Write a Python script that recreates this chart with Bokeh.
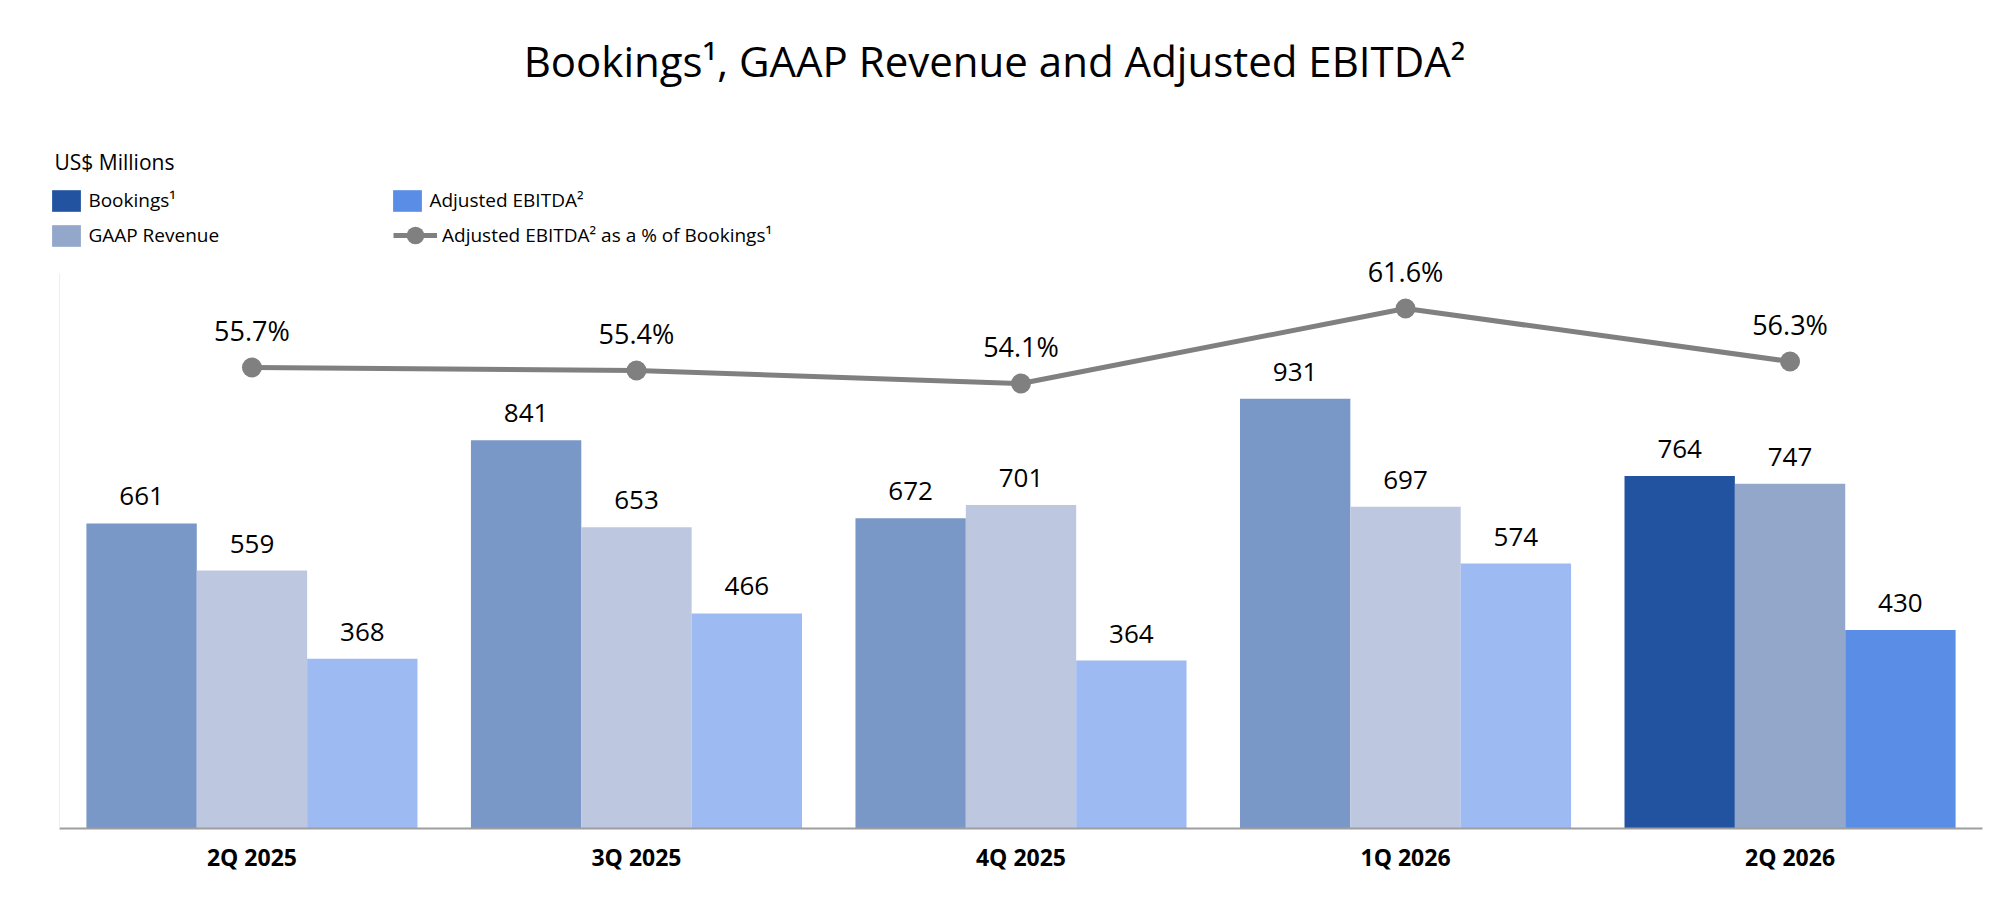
from bokeh.plotting import figure
from bokeh.models import (ColumnDataSource, FactorRange, Range1d, Legend,
                          LegendItem, Label, FixedTicker)
from bokeh.transform import dodge
from bokeh.core.properties import value
from bokeh.embed import file_html
from bokeh.resources import INLINE

# ---- data -------------------------------------------------------------
quarters = ["2Q 2025", "3Q 2025", "4Q 2025", "1Q 2026", "2Q 2026"]
bookings = [661, 841, 672, 931, 764]
gaap_revenue = [559, 653, 701, 697, 747]
adj_ebitda = [368, 466, 364, 574, 430]
ebitda_pct = [55.7, 55.4, 54.1, 61.6, 56.3]

bookings_colors = ["#7A98C7", "#7A98C7", "#7A98C7", "#7A98C7", "#2253A0"]
revenue_colors = ["#BDC8E0", "#BDC8E0", "#BDC8E0", "#BDC8E0", "#92A7C9"]
ebitda_colors = ["#9DBAF2", "#9DBAF2", "#9DBAF2", "#9DBAF2", "#5A8DE6"]

title_text = "Bookings\u00b9, GAAP Revenue and Adjusted EBITDA\u00b2"
unit_text = "US$ Millions"
legend_labels = ["Bookings\u00b9", "GAAP Revenue", "Adjusted EBITDA\u00b2",
                 "Adjusted EBITDA\u00b2 as a % of Bookings\u00b9"]

FONT = "Open Sans"
LINE_GRAY = "#808080"

src = ColumnDataSource(dict(
    q=quarters,
    bookings=bookings, gaap=gaap_revenue, ebitda=adj_ebitda, pct=ebitda_pct,
    bc=bookings_colors, rc=revenue_colors, ec=ebitda_colors,
    bl=[str(v) for v in bookings],
    rl=[str(v) for v in gaap_revenue],
    el=[str(v) for v in adj_ebitda],
    pl=["%.1f%%" % v for v in ebitda_pct],
))

W, H = 2004, 900
PAD = 0.0395  # absolute padding (categories) at each end
p = figure(x_range=FactorRange(*quarters, range_padding=PAD,
                               range_padding_units="absolute",
                               factor_padding=0),
           y_range=Range1d(0, 1794.1),
           width=W, height=H, output_backend="svg", toolbar_location=None,
           min_border_left=44, min_border_right=7, min_border_top=0,
           min_border_bottom=72, background_fill_color="white",
           border_fill_color="white")
p.extra_y_ranges = {"pct": Range1d(9.6, 92.4)}
p.outline_line_color = None
p.xgrid.visible = False
p.ygrid.visible = False

BW = 0.287
series = [("bookings", "bc", "bl", -BW), ("gaap", "rc", "rl", 0.0),
          ("ebitda", "ec", "el", BW)]
bar_r = []
for top, col, lab, off in series:
    r = p.vbar(x=dodge("q", off, range=p.x_range), top=top, width=BW,
               source=src, fill_color=col, line_color=None)
    bar_r.append(r)
    p.text(x=dodge("q", off, range=p.x_range), y=top, text=lab, source=src,
           text_align="center", text_baseline="alphabetic", y_offset=-27,
           text_font=value(FONT), text_font_size="26px", text_color="black")

lr = p.line(x="q", y="pct", y_range_name="pct", source=src,
            line_color=LINE_GRAY, line_width=5)
sr = p.scatter(x="q", y="pct", y_range_name="pct", source=src, size=20,
               fill_color=LINE_GRAY, line_color=None)
p.text(x="q", y="pct", text="pl", y_range_name="pct", source=src,
       text_align="center", text_baseline="alphabetic", y_offset=-37,
       text_font=value(FONT), text_font_size="27px", text_color="black")

# ---- axes -------------------------------------------------------------
xa = p.xaxis[0]
xa.bounds = (0, 5)
xa.axis_line_color = "#9E9E9E"
xa.axis_line_width = 2
xa.major_tick_out = 0
xa.major_tick_in = 0
xa.minor_tick_out = 0
xa.major_label_text_font = FONT
xa.major_label_text_font_size = "23px"
xa.major_label_text_font_style = "bold"
xa.major_label_text_color = "black"
xa.major_label_standoff = 12

ya = p.yaxis[0]
ya.ticker = FixedTicker(ticks=[])
ya.fixed_location = 0
ya.bounds = (0, 1203)
ya.axis_line_color = "#EEEEEE"
ya.axis_line_width = 1
ya.major_tick_out = 0
ya.major_tick_in = 0
ya.minor_tick_out = 0
ya.minor_tick_in = 0

# ---- legends ----------------------------------------------------------
def make_legend(items, loc, gw, gh, standoff, spacing):
    lg = Legend(items=items, location=loc, glyph_width=gw, glyph_height=gh,
                label_standoff=standoff, padding=0, margin=0, spacing=spacing,
                border_line_color=None, background_fill_alpha=0,
                label_text_font=FONT, label_text_font_size="19px",
                label_text_color="black")
    p.add_layout(lg, "center")

make_legend([LegendItem(label=legend_labels[0], renderers=[bar_r[0]], index=4),
             LegendItem(label=legend_labels[1], renderers=[bar_r[1]], index=4)],
            (4.4, 579.25), 36, 27, 4, 8)
make_legend([LegendItem(label=legend_labels[2], renderers=[bar_r[2]], index=4)],
            (345.4, 614.25), 36, 27, 4, 8)
make_legend([LegendItem(label=legend_labels[3], renderers=[lr, sr])],
            (349, 567), 44, 52, 5, 0)

# ---- titles -----------------------------------------------------------
p.add_layout(Label(x=950, y=768, x_units="screen", y_units="screen",
                   text=title_text, text_align="center",
                   text_baseline="alphabetic", text_font=FONT,
                   text_font_size="42px", text_color="black"))
p.add_layout(Label(x=10, y=667, x_units="screen", y_units="screen",
                   text=unit_text, text_align="left",
                   text_baseline="alphabetic", text_font=FONT,
                   text_font_size="21px", text_color="black"))

open("out.html", "w").write(file_html(p, INLINE))
